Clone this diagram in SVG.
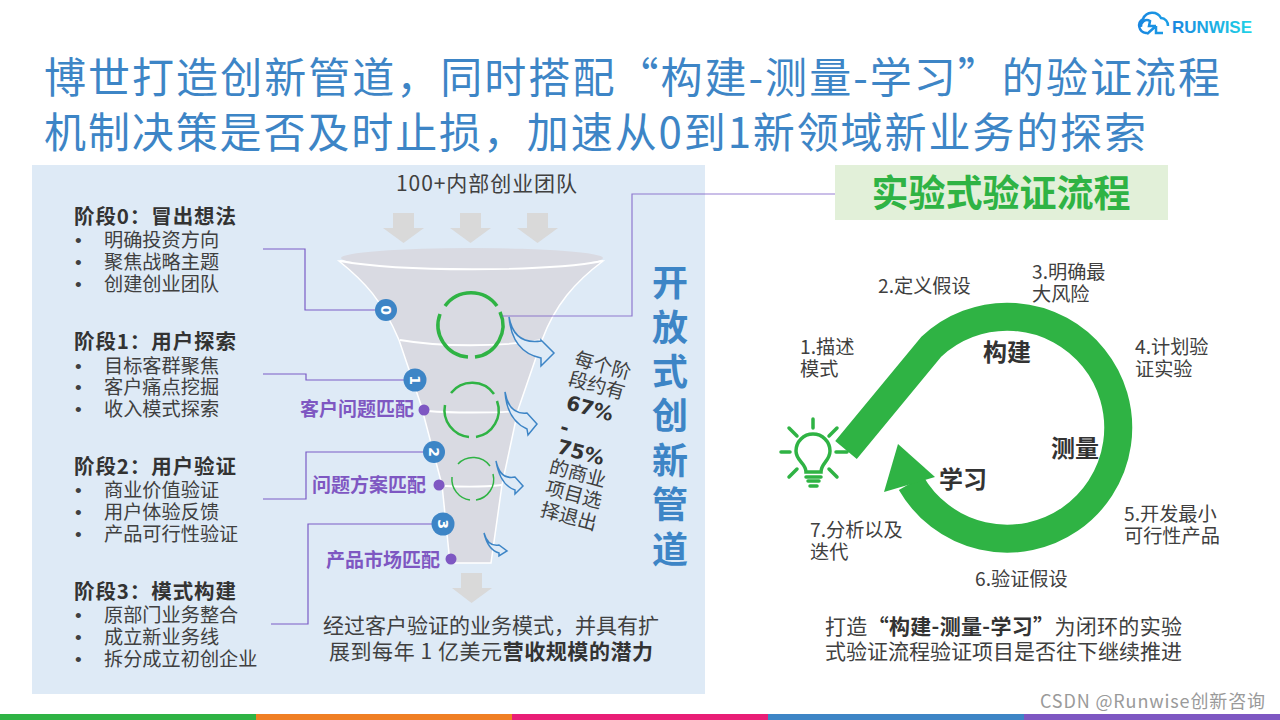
<svg xmlns="http://www.w3.org/2000/svg" width="1280" height="720" viewBox="0 0 1280 720">
<style>
text{font-family:"Noto Sans CJK SC","Noto Sans",sans-serif;fill:#404040}
.title{font-size:42px;fill:#3d85c6}
.head{font-size:20.500px;font-weight:700;fill:#333}
.b{font-size:19.200px}
.m{font-size:21px}
.bul{font-size:19px;font-family:"Liberation Sans",sans-serif}
.c{text-anchor:middle}
.pl{font-size:19px;font-weight:700;fill:#7e57c2;text-anchor:end}
.v{font-size:36px;font-weight:700;fill:#3d85c6;text-anchor:middle}
.n{font-size:14px;font-weight:700;fill:#fff;font-family:"DejaVu Sans",sans-serif;text-anchor:middle}
.k{font-size:24px;font-weight:700;fill:#333;text-anchor:middle}
.p{font-family:"DejaVu Sans",sans-serif;font-weight:700;font-size:20px;fill:#333;text-anchor:middle}
.conn{fill:none;stroke:#7a5cc6;stroke-width:1.200}
.ga{fill:#d9d9d9}
.ha{fill:#deeaf6;stroke:#3d85c6;stroke-width:1.500}
.dot{fill:#7e57c2}
.bn{fill:#3d85c6}
.gc{fill:none;stroke:#2fb344}
.wl{fill:none;stroke:#fff;stroke-width:1.800}
.ray{stroke:#2fb344;stroke-width:3.500;stroke-linecap:round;fill:none}
</style>
<defs>
<linearGradient id="lg" x1="0" x2="1" y1="0" y2="0"><stop offset="0" stop-color="#1a86e0"/><stop offset="1" stop-color="#1fd3e6"/></linearGradient>
<linearGradient id="lgc" gradientUnits="userSpaceOnUse" x1="1138" x2="1170" y1="0" y2="0"><stop offset="0" stop-color="#1a86e0"/><stop offset="1" stop-color="#1a9fe6"/></linearGradient>
</defs>
<rect width="1280" height="720" fill="#fff"/>

<g id="logo">
<path d="M1147 33 H1146 A7.500 7.500 0 0 1 1143 19 A10 10 0 0 1 1161 18 A7.500 7.500 0 0 1 1168 26 M1163 33 H1156 V26 M1156 26 L1147 34 M1141 27 A6 6 0 0 1 1150 21 L1149 26 H1156" fill="none" stroke="url(#lgc)" stroke-width="2.500"/>
<text x="1172" y="33" font-size="17" font-weight="700" style="font-family:'Liberation Sans',sans-serif;fill:url(#lg)" textLength="80">RUNWISE</text>
</g>

<g id="title">
<text class="title" x="44" y="93" textLength="1176">博世打造创新管道，同时搭配“构建-测量-学习”的验证流程</text>
<text class="title" x="44" y="148" textLength="1102">机制决策是否及时止损，加速从0到1新领域新业务的探索</text>
</g>

<rect id="panel" x="32" y="165" width="673" height="529" fill="#deeaf6"/>

<g id="funnel">
<path d="M339 261 C365 282 382 300 399 340 L421 405 L442 485 L450 563 L491 563 L502 485 L518 410 L542 340 C555 305 575 282 603 261 Z" fill="#d9dae2" stroke="#fff" stroke-width="1.500"/>
<ellipse cx="472" cy="258" rx="131" ry="10" fill="#d9dae2"/>
<path class="wl" d="M340 261 C400 272 545 272 603 261"/>
<path class="wl" d="M400 340 C440 347 500 347 542 340"/>
<path class="wl" d="M428 411 C450 413 495 413 518 411"/>
<path class="wl" d="M445 486 C465 487 485 487 502 485"/>
<g class="ga">
<path d="M393 213 H414 V228 H424 L403.500 243 L383 228 H393 Z"/>
<path d="M460 213 H481 V228 H491 L470.500 243 L450 228 H460 Z"/>
<path d="M527 213 H548 V228 H558 L537.500 243 L517 228 H527 Z"/>
<path d="M461 573 H482 V588 H492 L471.500 603 L452 588 H461 Z"/>
</g>
</g>

<g id="loops">
<path class="gc" stroke-width="3.500" d="M445 306 A32 32 0 0 1 497 306 M500 312 A32 32 0 0 1 475 357 M468 357 A32 32 0 0 1 440 314"/>
<path class="gc" stroke-width="2.500" d="M451 393 A27 27 0 0 1 494 394 M497 401 A27 27 0 0 1 476 437 M469 437 A27 27 0 0 1 445 405"/>
<path class="gc" stroke-width="1.500" d="M458 464 A21 21 0 0 1 490 466 M493 474 A21 21 0 0 1 476 500 M470 500 A21 21 0 0 1 452 477"/>
</g>

<g id="connectors">
<path class="conn" d="M263 249 H305 V310 H375"/>
<path class="conn" d="M263 374 H306 V380 H404"/>
<path class="conn" d="M263 499 H306 V452 H423"/>
<path class="conn" d="M271 624 H308 V524 H432"/>
<path class="conn" d="M502 316 H632 V194 H835" stroke-opacity=".8"/>
</g>

<g id="exit-arrows">
<path class="ha" d="M509 317 Q514 345 541 341 V340 L554 353 L541 366 V358 Q512 352 509 317 Z"/>
<path class="ha" d="M505 392 Q509 415 527 413 L537 424 L528 435 L527 429 Q507 420 505 392 Z"/>
<path class="ha" d="M496 461 Q500 480 515 477 L523 486 L515 494 V490 Q500 485 496 461 Z"/>
<path class="ha" stroke-width="1" d="M484 533 Q488 547 499 545 L507 551 L499 556 V553 Q488 550 484 533 Z"/>
</g>

<g id="badge-0"><circle class="bn" cx="386" cy="310" r="11"/><text class="n" transform="translate(386 310) rotate(90)" y="5">0</text></g>
<g id="badge-1"><circle class="bn" cx="415" cy="380" r="11.500"/><text class="n" transform="translate(415 380) rotate(90)" y="5">1</text></g>
<g id="badge-2"><circle class="bn" cx="434" cy="452" r="11"/><text class="n" transform="translate(434 452) rotate(90)" y="5">2</text></g>
<g id="badge-3"><circle class="bn" cx="443" cy="524" r="11.500"/><text class="n" transform="translate(443 524) rotate(90)" y="5">3</text></g>

<g id="match-1"><circle class="dot" cx="424" cy="410" r="5.500"/><text class="pl" x="414" y="416">客户问题匹配</text></g>
<g id="match-2"><circle class="dot" cx="439" cy="485" r="5.500"/><text class="pl" x="426" y="492">问题方案匹配</text></g>
<g id="match-3"><circle class="dot" cx="451" cy="559" r="5.500"/><text class="pl" x="440" y="567">产品市场匹配</text></g>

<g id="stage-0">
<text class="head" x="74" y="224" textLength="162">阶段0：冒出想法</text>
<text class="bul" x="75" y="247">•</text><text class="b" x="104" y="247">明确投资方向</text>
<text class="bul" x="75" y="269">•</text><text class="b" x="104" y="269">聚焦战略主题</text>
<text class="bul" x="75" y="291">•</text><text class="b" x="104" y="291">创建创业团队</text>
</g>
<g id="stage-1">
<text class="head" x="74" y="349" textLength="162">阶段1：用户探索</text>
<text class="bul" x="75" y="373">•</text><text class="b" x="104" y="373">目标客群聚焦</text>
<text class="bul" x="75" y="394">•</text><text class="b" x="104" y="394">客户痛点挖掘</text>
<text class="bul" x="75" y="416">•</text><text class="b" x="104" y="416">收入模式探索</text>
</g>
<g id="stage-2">
<text class="head" x="74" y="474" textLength="162">阶段2：用户验证</text>
<text class="bul" x="75" y="497">•</text><text class="b" x="104" y="497">商业价值验证</text>
<text class="bul" x="75" y="519">•</text><text class="b" x="104" y="519">用户体验反馈</text>
<text class="bul" x="75" y="541">•</text><text class="b" x="104" y="541">产品可行性验证</text>
</g>
<g id="stage-3">
<text class="head" x="74" y="599" textLength="162">阶段3：模式构建</text>
<text class="bul" x="75" y="622">•</text><text class="b" x="104" y="622">原部门业务整合</text>
<text class="bul" x="75" y="644">•</text><text class="b" x="104" y="644">成立新业务线</text>
<text class="bul" x="75" y="666">•</text><text class="b" x="104" y="666">拆分成立初创企业</text>
</g>

<text class="m" x="396" y="191" textLength="181">100+内部创业团队</text>

<g id="exit-rate">
<text class="b c" transform="translate(601 372) rotate(15)">每个阶</text>
<text class="b c" transform="translate(595 392) rotate(15)">段约有</text>
<text class="p" transform="translate(588 415) rotate(15)">67%</text>
<text class="p" transform="translate(563 434) rotate(15)">-</text>
<text class="p" transform="translate(579 459) rotate(15)">75%</text>
<text class="b c" transform="translate(576 480) rotate(15)">的商业</text>
<text class="b c" transform="translate(572 501) rotate(15)">项目选</text>
<text class="b c" transform="translate(567 523) rotate(15)">择退出</text>
</g>

<g id="open-pipeline">
<text class="v" x="670" y="296">开</text><text class="v" x="670" y="341">放</text><text class="v" x="670" y="385">式</text><text class="v" x="670" y="429">创</text><text class="v" x="670" y="474">新</text><text class="v" x="670" y="518">管</text><text class="v" x="670" y="563">道</text>
</g>

<g id="funnel-note">
<text class="m" x="323" y="633" textLength="336">经过客户验证的业务模式，并具有扩</text>
<text class="m" x="329" y="659" textLength="324">展到每年 1 亿美元<tspan font-weight="700" style="fill:#333">营收规模的潜力</tspan></text>
</g>

<g id="flow-header">
<rect x="835" y="165" width="333" height="55" fill="#e2f0d9"/>
<text x="1001" y="207" font-size="37" font-weight="700" style="fill:#2fb344" text-anchor="middle">实验式验证流程</text>
</g>

<g id="loop-arrow">
<path d="M846 450 L931 347 A111 111 0 1 1 911 483" fill="none" stroke="#2fb344" stroke-width="28"/>
<path d="M898 444 L935 477 L884 492 Z" fill="#2fb344"/>
<text class="k" x="1007" y="361">构建</text>
<text class="k" x="1075" y="457">测量</text>
<text class="k" x="963" y="488">学习</text>
</g>

<g id="bulb">
<path class="ray" d="M813 419V428M781 452H790M836 452H847M789 428L797 436M837 428L829 436M789 477L797 469M837 477L829 469"/>
<path d="M806 472 C806 463 796 461 796 451 A17 17 0 1 1 830 451 C830 461 821 463 821 472 Z" fill="none" stroke="#2fb344" stroke-width="3.500"/>
<path class="ray" stroke-width="3" d="M806 477H821M810 486H817"/>
<path class="ray" stroke-width="3" d="M808 481H819"/>
</g>

<g id="steps">
<text class="b" x="800" y="354">1.描述</text><text class="b" x="800" y="376">模式</text>
<text class="b" x="878" y="293">2.定义假设</text>
<text class="b" x="1032" y="279">3.明确最</text><text class="b" x="1032" y="301">大风险</text>
<text class="b" x="1135" y="354">4.计划验</text><text class="b" x="1135" y="376">证实验</text>
<text class="b" x="1124" y="521">5.开发最小</text><text class="b" x="1124" y="543">可行性产品</text>
<text class="b" x="975" y="586">6.验证假设</text>
<text class="b" x="810" y="537">7.分析以及</text><text class="b" x="810" y="559">迭代</text>
</g>

<g id="flow-note">
<text class="m" x="825" y="634" textLength="357">打造<tspan font-weight="700" style="fill:#333">“构建-测量-学习”</tspan>为闭环的实验</text>
<text class="m" x="825" y="659" textLength="357">式验证流程验证项目是否往下继续推进</text>
</g>

<g id="footer">
<rect x="0" y="714" width="256" height="6" fill="#2fb344"/>
<rect x="256" y="714" width="256" height="6" fill="#f07f24"/>
<rect x="512" y="714" width="256" height="6" fill="#e91e76"/>
<rect x="768" y="714" width="256" height="6" fill="#3d85c6"/>
<rect x="1024" y="714" width="256" height="6" fill="#7e57c2"/>
</g>
<text x="1040" y="708" font-size="18" style="fill:#9a9a9a" textLength="225">CSDN @Runwise创新咨询</text>
</svg>
